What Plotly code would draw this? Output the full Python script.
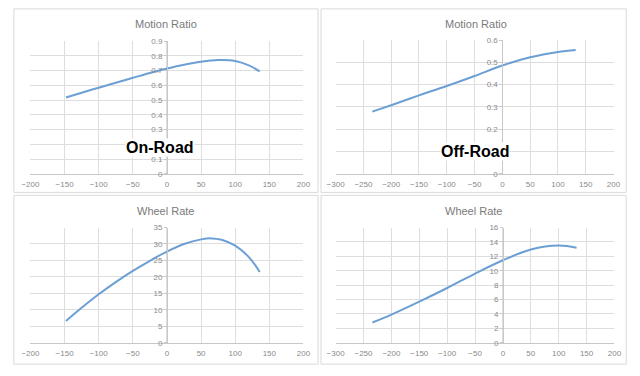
import plotly.graph_objects as go

# ---- data ----
onroad_mr_x = [-148, -125, -100, -75, -50, -25, 0, 25, 50, 75, 100, 120, 136]
onroad_mr_y = [0.518, 0.550, 0.584, 0.618, 0.651, 0.684, 0.714, 0.740, 0.760, 0.771, 0.765, 0.735, 0.695]

offroad_mr_x = [-234, -200, -150, -100, -50, 0, 50, 100, 132]
offroad_mr_y = [0.279, 0.308, 0.352, 0.394, 0.439, 0.486, 0.523, 0.547, 0.556]

onroad_wr_x = [-148, -125, -100, -75, -50, -25, 0, 25, 50, 65, 80, 100, 120, 136]
onroad_wr_y = [6.6, 10.6, 14.7, 18.4, 21.8, 24.9, 27.7, 30.0, 31.4, 31.7, 31.3, 29.5, 26.0, 21.5]

offroad_wr_x = [-234, -200, -150, -100, -50, 0, 50, 100, 132]
offroad_wr_y = [2.8, 3.9, 5.7, 7.6, 9.6, 11.45, 12.95, 13.5, 13.2]

titles = ["Motion Ratio", "Motion Ratio", "Wheel Rate", "Wheel Rate"]
labels = ["On-Road", "Off-Road"]

W, H = 640, 376
LINE = "#6c9fd3"
GRID = "#dedede"
AX = "#c8c8c8"
FONT = "Liberation Sans, Arial, sans-serif"
TICKF = dict(family=FONT, size=8, color="#8a8a8a")

def px(x):
    return x / W

def py(y):
    return 1 - y / H

fig = go.Figure()
series = [
    (onroad_mr_x, onroad_mr_y, "x", "y"),
    (offroad_mr_x, offroad_mr_y, "x2", "y2"),
    (onroad_wr_x, onroad_wr_y, "x3", "y3"),
    (offroad_wr_x, offroad_wr_y, "x4", "y4"),
]
for xs, ys, xa, ya in series:
    fig.add_trace(go.Scatter(x=xs, y=ys, xaxis=xa, yaxis=ya, mode="lines",
                             line=dict(color=LINE, width=2, shape="spline", smoothing=1.0),
                             showlegend=False, hoverinfo="skip"))

# plot areas (pixels): x0, x1, ytop, ybottom
areas = [
    (22, 302, 38, 174),
    (335, 620, 37, 174),
    (22, 302, 229, 347),
    (335, 621, 229, 347),
]
xranges = [[-200, 200], [-300, 200], [-200, 200], [-300, 200]]
yranges = [[0, 0.9], [0, 0.6], [0, 35], [0, 16]]
ydt = [0.1, 0.1, 5, 2]

layout = dict(width=W, height=H, margin=dict(l=0, r=0, t=0, b=0),
              paper_bgcolor="white", plot_bgcolor="white", showlegend=False)

for i in range(4):
    x0, x1, yt, yb = areas[i]
    sx = "" if i == 0 else str(i + 1)
    xr = xranges[i]
    frac0 = (0 - xr[0]) / (xr[1] - xr[0])
    pos = px(x0 + frac0 * (x1 - x0))
    layout["xaxis" + sx] = dict(domain=[px(x0), px(x1)], range=xr, dtick=50,
                                anchor="y" + sx, showgrid=True, gridcolor=GRID, gridwidth=1,
                                zeroline=False, showline=True, linecolor=AX, linewidth=1,
                                ticks="", tickfont=TICKF, ticklabelstandoff=3, fixedrange=True)
    layout["yaxis" + sx] = dict(domain=[py(yb), py(yt)], range=yranges[i], dtick=ydt[i],
                                anchor="free", position=pos, showgrid=True, gridcolor=GRID,
                                gridwidth=1, zeroline=False, showline=True, linecolor=AX,
                                linewidth=1, ticks="outside", ticklen=3, tickcolor=AX,
                                tickfont=TICKF, fixedrange=True)

fig.update_layout(**layout)

# panel borders
panels = [(5, 317, 5, 193), (320, 633, 5, 193), (5, 317, 196, 369), (320, 633, 196, 369)]
for (a, b, c, d) in panels:
    fig.add_shape(type="rect", xref="paper", yref="paper", x0=px(a), x1=px(b), y0=py(d), y1=py(c),
                  line=dict(color="#d9d9d9", width=1), fillcolor="rgba(0,0,0,0)", layer="below")

# titles
title_pos = [(161, 20), (479, 20), (161, 212), (476, 212)]
for t, (x, y) in zip(titles, title_pos):
    fig.add_annotation(text=t, x=px(x), y=py(y), xref="paper", yref="paper", showarrow=False,
                       xanchor="center", yanchor="middle",
                       font=dict(family=FONT, size=11, color="#7a7a7a"))

# big labels
label_pos = [(155, 147), (478, 151)]
for t, (x, y) in zip(labels, label_pos):
    fig.add_annotation(text="<b>" + t + "</b>", x=px(x), y=py(y), xref="paper", yref="paper",
                       showarrow=False, xanchor="center", yanchor="middle",
                       bgcolor="white", borderpad=0,
                       font=dict(family=FONT, size=16, color="black"))

fig.write_html("out.html", config={"displayModeBar": False},
               post_script="document.body.style.margin='0';")
